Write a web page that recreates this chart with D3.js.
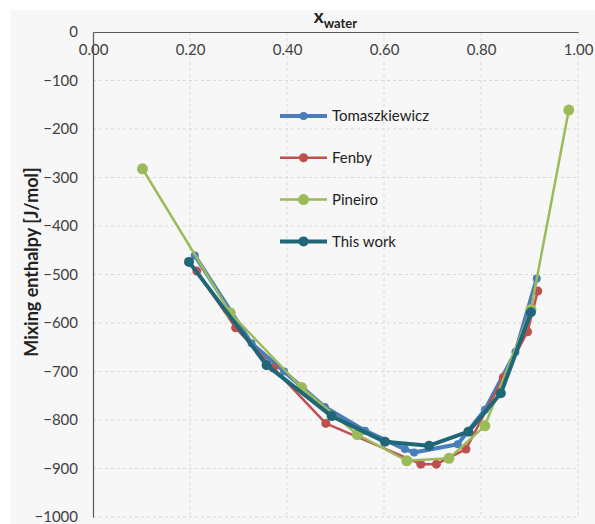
<!DOCTYPE html>
<html><head><meta charset="utf-8">
<script src="https://cdn.jsdelivr.net/npm/d3@7"></script>
<style>body{margin:0;background:#fff}svg{display:block}</style>
</head><body><svg id="c" width="595" height="524"></svg>
<script>
const xTicks = [0, 0.2, 0.4, 0.6, 0.8, 1.0];
const yTicks = [0, -100, -200, -300, -400, -500, -600, -700, -800, -900, -1000];
const seriesNames = ["Tomaszkiewicz", "Fenby", "Pineiro", "This work"];
const tomX = [0.210, 0.327, 0.394, 0.478, 0.561, 0.643, 0.662, 0.752, 0.808, 0.871, 0.915];
const tomY = [-461, -642, -700, -773, -822, -860, -867, -850, -779, -660, -508];
const fenX = [0.214, 0.294, 0.372, 0.480, 0.676, 0.708, 0.769, 0.846, 0.896, 0.917];
const fenY = [-493, -610, -693, -807, -891, -891, -860, -712, -618, -534];
const pinX = [0.102, 0.283, 0.430, 0.545, 0.647, 0.734, 0.808, 0.903, 0.981];
const pinY = [-282, -579, -733, -830, -884, -879, -812, -572, -161];
const thisX = [0.198, 0.358, 0.492, 0.602, 0.693, 0.774, 0.841, 0.903];
const thisY = [-474, -687, -792, -845, -853, -824, -745, -578];

const styles = [
  {color:"#4a7ebb", w:4, r:4},
  {color:"#c0504d", w:2.5, r:4.5},
  {color:"#9bbb59", w:2.5, r:5.5},
  {color:"#1f6777", w:4, r:5}
];
const series = [[tomX,tomY],[fenX,fenY],[pinX,pinY],[thisX,thisY]].map((s,i)=>({
  name: seriesNames[i], pts: s[0].map((x,j)=>({x, y:s[1][j]})), st: styles[i]}));

const svg = d3.select("#c");
const font = "Lato, 'Open Sans', sans-serif";
svg.append("rect").attr("x",10).attr("y",10).attr("width",585).attr("height",514).attr("fill","#f7f7f7");

const x = d3.scaleLinear().domain([0,1]).range([93,578]);
const y = d3.scaleLinear().domain([0,-1000]).range([32,517]);

// gridlines
const g = svg.append("g");
g.selectAll(".vg").data(xTicks.slice(1)).join("line")
  .attr("x1",d=>x(d)).attr("x2",d=>x(d)).attr("y1",y(0)).attr("y2",y(-1000))
  .attr("stroke","#d9d9d9").attr("stroke-width",1).attr("stroke-dasharray","3,3");
g.selectAll(".hg").data(yTicks.slice(1)).join("line")
  .attr("x1",x(0)).attr("x2",x(1)).attr("y1",d=>y(d)).attr("y2",d=>y(d))
  .attr("stroke","#d9d9d9").attr("stroke-width",1).attr("stroke-dasharray","3,3");

// axes
const xAxis = d3.axisTop(x).tickValues(xTicks).tickSize(0).tickFormat(d3.format(".2f"));
const xa = svg.append("g").attr("transform",`translate(0,${y(0)})`).call(xAxis);
xa.select(".domain").attr("stroke","#595959").attr("stroke-width",1.2);
xa.selectAll("text").attr("dy",null).attr("y",23).attr("font-family",font).attr("font-size",15).attr("fill","#404040");

const yAxis = d3.axisLeft(y).tickValues(yTicks).tickSize(0).tickFormat(d3.format("d"));
const ya = svg.append("g").attr("transform",`translate(${x(0)},0)`).call(yAxis);
ya.select(".domain").attr("stroke","#595959").attr("stroke-width",1.2);
ya.selectAll("text").attr("x",-15).attr("font-family",font).attr("font-size",15).attr("fill","#404040");

// titles
const t = svg.append("text").attr("x",(x(0)+x(1))/2).attr("y",23).attr("text-anchor","middle")
  .attr("font-family",font).attr("font-weight","bold").attr("fill","#222");
t.append("tspan").attr("font-size",19).text("x");
t.append("tspan").attr("font-size",13).attr("dy",5).text("water");

svg.append("text").attr("transform","translate(38,262) rotate(-90)").attr("text-anchor","middle")
  .attr("font-family",font).attr("font-weight","bold").attr("font-size",18).attr("fill","#222")
  .text("Mixing enthalpy [J/mol]");

// series
const line = d3.line().x(d=>x(d.x)).y(d=>y(d.y));
series.forEach(s=>{
  const sg = svg.append("g");
  sg.append("path").attr("d",line(s.pts)).attr("fill","none").attr("stroke",s.st.color)
    .attr("stroke-width",s.st.w).attr("stroke-linejoin","round");
  sg.selectAll("circle").data(s.pts).join("circle").attr("cx",d=>x(d.x)).attr("cy",d=>y(d.y))
    .attr("r",s.st.r).attr("fill",s.st.color);
});

// legend
const lg = svg.append("g");
series.forEach((s,i)=>{
  const ly = 116 + i*41.8;
  lg.append("line").attr("x1",280).attr("x2",327).attr("y1",ly).attr("y2",ly)
    .attr("stroke",s.st.color).attr("stroke-width",s.st.w);
  lg.append("circle").attr("cx",303.5).attr("cy",ly).attr("r",s.st.r).attr("fill",s.st.color);
  lg.append("text").attr("x",332).attr("y",ly).attr("dy","0.35em").attr("font-family",font)
    .attr("font-size",15).attr("fill","#222").text(s.name);
});
</script></body></html>
